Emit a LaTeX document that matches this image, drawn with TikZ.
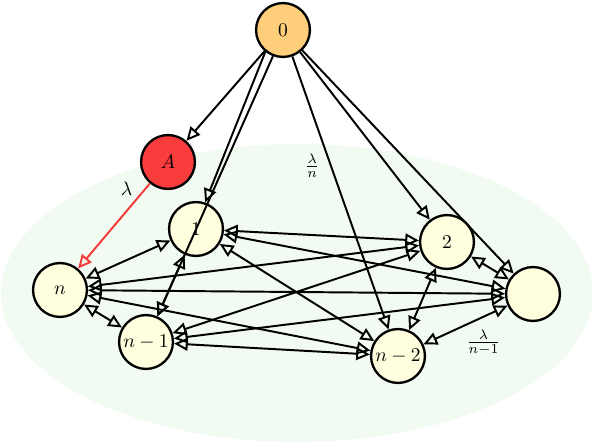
\documentclass[tikz,border=0pt]{standalone}
\usepackage{amsmath, tikz}
\usetikzlibrary{arrows.meta}

\definecolor{zerofill}{RGB}{255,206,122}
\definecolor{absfill}{RGB}{250,60,60}
\definecolor{statefill}{RGB}{255,255,224}
\definecolor{cloudfill}{RGB}{242,251,241}
\definecolor{redline}{RGB}{245,60,60}

\begin{document}
\begin{tikzpicture}[x=0.018cm,y=-0.018cm,
		statenode/.style={circle,draw,line width=1.2pt,fill=statefill,minimum size=0.97cm,inner sep=0pt},
		>={Triangle[open,length=7pt,width=6.5pt]},
		link/.style={line width=1pt,<->},
		jump/.style={line width=1pt,->}]
		\useasboundingbox (0,0) rectangle (592,444);
		\fill[cloudfill] (297,293) ellipse [x radius=296,y radius=149];

		\node[statenode,fill=zerofill]	(0)		at (283,30)		{$0$};
		\node[statenode,fill=absfill]	(A)		at (168,162)	{$A$};
		\node[statenode]				(1)		at (196,229)	{$1$};
		\node[statenode]				(2)		at (447,242)	{$2$};
		\node[statenode]				(m)		at (533,294)	{};
		\node[statenode]				(n2)	at (398,356)	{$n-2$};
		\node[statenode]				(n1)	at (146,342)	{$n-1$};
		\node[statenode]				(n)		at (60,290)		{$n$};

		\draw[jump] (0) -- (A);
		\draw[jump] (0.231) -- (1.71);
		\draw[jump] (0.249) -- (n1);
		\draw[jump] (0) -- node[pos=0.4,left=2pt] {$\frac{\lambda}{n}$} (n2);
		\draw[jump] (0) -- (2);
		\draw[jump] (0) -- (m);
		\draw[jump,redline] (A) -- node[pos=0.06,left=3pt,text=black] {$\lambda$} (n);

		\draw[link] (1) -- (2);
		\draw[link] (1) -- (m);
		\draw[link] (1) -- (n2);
		\draw[link] (1) -- (n1);
		\draw[link] (1) -- (n);
		\draw[link] (2) -- (m);
		\draw[link] (2) -- (n2);
		\draw[link] (2) -- (n1);
		\draw[link] (2) -- (n);
		\draw[link] (m) -- node[pos=0.285,below=3pt] {$\frac{\lambda}{n-1}$} (n2);
		\draw[link] (m) -- (n1);
		\draw[link] (m) -- (n);
		\draw[link] (n2) -- (n1);
		\draw[link] (n2) -- (n);
		\draw[link] (n1) -- (n);
	\end{tikzpicture}
\end{document}
